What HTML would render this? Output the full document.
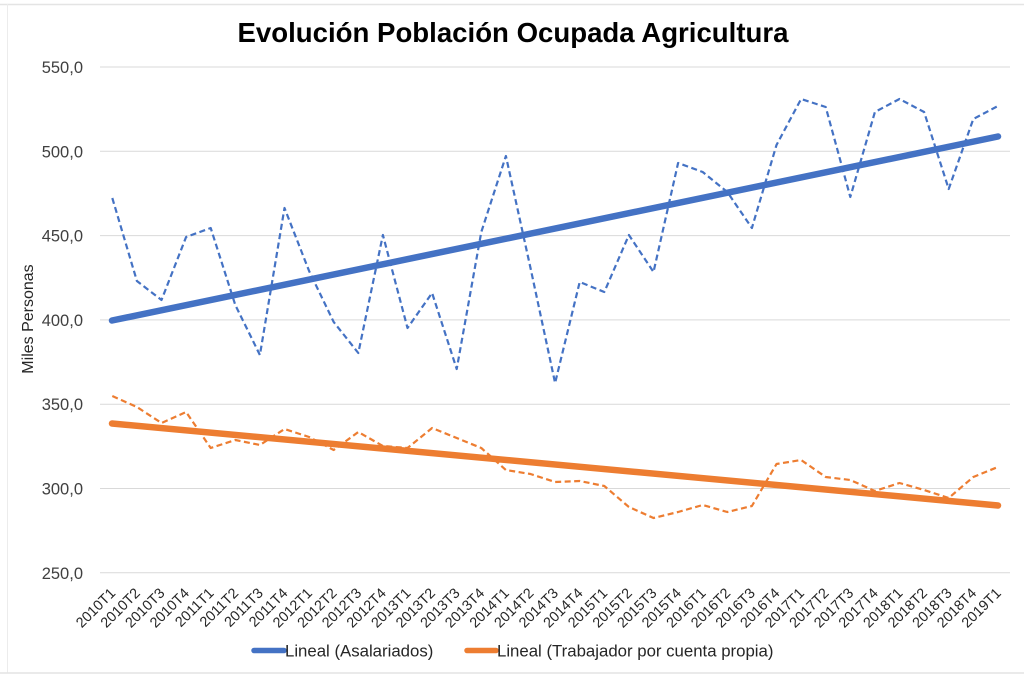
<!DOCTYPE html>
<html><head><meta charset="utf-8"><style>
html,body{margin:0;padding:0;background:#fff;}
svg{display:block;}
text{font-family:"Liberation Sans",Arial,sans-serif;}
</style></head><body>
<svg width="1024" height="676" viewBox="0 0 1024 676" xmlns="http://www.w3.org/2000/svg">
<rect x="0" y="0" width="1024" height="676" fill="#fff"/>
<line x1="0" y1="4.5" x2="1024" y2="4.5" stroke="#e4e4e4" stroke-width="1.5"/>
<line x1="7.5" y1="4" x2="7.5" y2="673" stroke="#ececec" stroke-width="1"/>
<line x1="0" y1="673" x2="1024" y2="673" stroke="#e4e4e4" stroke-width="1.5"/>
<text x="513" y="42" text-anchor="middle" font-size="27.6" font-weight="bold" fill="#000">Evolución Población Ocupada Agricultura</text>
<g stroke="#d9d9d9" stroke-width="1">
<line x1="100" y1="67" x2="1010" y2="67"/>
<line x1="100" y1="151.3" x2="1010" y2="151.3"/>
<line x1="100" y1="235.6" x2="1010" y2="235.6"/>
<line x1="100" y1="319.9" x2="1010" y2="319.9"/>
<line x1="100" y1="404.2" x2="1010" y2="404.2"/>
<line x1="100" y1="488.5" x2="1010" y2="488.5"/>
<line x1="100" y1="572.8" x2="1010" y2="572.8"/>
</g>
<g font-size="16.5" fill="#404040" text-anchor="end">
<text x="83" y="73">550,0</text>
<text x="83" y="157.3">500,0</text>
<text x="83" y="241.6">450,0</text>
<text x="83" y="325.9">400,0</text>
<text x="83" y="410.2">350,0</text>
<text x="83" y="494.5">300,0</text>
<text x="83" y="578.8">250,0</text>
</g>
<text transform="translate(33,319) rotate(-90)" text-anchor="middle" font-size="16" fill="#262626">Miles Personas</text>
<polyline fill="none" stroke="#4472C4" stroke-width="2.2" stroke-dasharray="6,3.5" stroke-linejoin="round" points="112.3,198 136.9,281 161.5,300 186.1,237 210.7,228 235.3,305 259.9,355 284.5,208 309.1,271 333.7,322 358.3,353 382.9,235 407.5,328 432.1,293 456.7,369 481.3,232 505.9,156 530.5,268 555.1,383 579.7,282 604.3,292 628.9,235 653.5,272 678.1,163 702.7,172 727.3,192 751.9,228 776.5,145 801.1,99 825.7,107 850.3,197 874.9,112 899.5,99 924.1,112 948.7,189 973.3,119 997.9,106"/>
<polyline fill="none" stroke="#ED7D31" stroke-width="2.2" stroke-dasharray="6,3.5" stroke-linejoin="round" points="112.3,396 136.9,407 161.5,423 186.1,412 210.7,448 235.3,440 259.9,445 284.5,429 309.1,437 333.7,450 358.3,432 382.9,446 407.5,448 432.1,428 456.7,438 481.3,448 505.9,470 530.5,474 555.1,482 579.7,481 604.3,486 628.9,507 653.5,518 678.1,512 702.7,505 727.3,512 751.9,506 776.5,464 801.1,460 825.7,477 850.3,480 874.9,491 899.5,483 924.1,490 948.7,498 973.3,477 997.9,467"/>
<line x1="112" y1="320.5" x2="998" y2="136.5" stroke="#4472C4" stroke-width="6.5" stroke-linecap="round"/>
<line x1="112" y1="423.5" x2="998" y2="505.5" stroke="#ED7D31" stroke-width="6.5" stroke-linecap="round"/>
<g font-size="14.4" fill="#262626" text-anchor="end">
<text transform="translate(116.3,594) rotate(-45)">2010T1</text>
<text transform="translate(140.9,594) rotate(-45)">2010T2</text>
<text transform="translate(165.5,594) rotate(-45)">2010T3</text>
<text transform="translate(190.1,594) rotate(-45)">2010T4</text>
<text transform="translate(214.7,594) rotate(-45)">2011T1</text>
<text transform="translate(239.3,594) rotate(-45)">2011T2</text>
<text transform="translate(263.9,594) rotate(-45)">2011T3</text>
<text transform="translate(288.5,594) rotate(-45)">2011T4</text>
<text transform="translate(313.1,594) rotate(-45)">2012T1</text>
<text transform="translate(337.7,594) rotate(-45)">2012T2</text>
<text transform="translate(362.3,594) rotate(-45)">2012T3</text>
<text transform="translate(386.9,594) rotate(-45)">2012T4</text>
<text transform="translate(411.5,594) rotate(-45)">2013T1</text>
<text transform="translate(436.1,594) rotate(-45)">2013T2</text>
<text transform="translate(460.7,594) rotate(-45)">2013T3</text>
<text transform="translate(485.3,594) rotate(-45)">2013T4</text>
<text transform="translate(509.9,594) rotate(-45)">2014T1</text>
<text transform="translate(534.5,594) rotate(-45)">2014T2</text>
<text transform="translate(559.1,594) rotate(-45)">2014T3</text>
<text transform="translate(583.7,594) rotate(-45)">2014T4</text>
<text transform="translate(608.3,594) rotate(-45)">2015T1</text>
<text transform="translate(632.9,594) rotate(-45)">2015T2</text>
<text transform="translate(657.5,594) rotate(-45)">2015T3</text>
<text transform="translate(682.1,594) rotate(-45)">2015T4</text>
<text transform="translate(706.7,594) rotate(-45)">2016T1</text>
<text transform="translate(731.3,594) rotate(-45)">2016T2</text>
<text transform="translate(755.9,594) rotate(-45)">2016T3</text>
<text transform="translate(780.5,594) rotate(-45)">2016T4</text>
<text transform="translate(805.1,594) rotate(-45)">2017T1</text>
<text transform="translate(829.7,594) rotate(-45)">2017T2</text>
<text transform="translate(854.3,594) rotate(-45)">2017T3</text>
<text transform="translate(878.9,594) rotate(-45)">2017T4</text>
<text transform="translate(903.5,594) rotate(-45)">2018T1</text>
<text transform="translate(928.1,594) rotate(-45)">2018T2</text>
<text transform="translate(952.7,594) rotate(-45)">2018T3</text>
<text transform="translate(977.3,594) rotate(-45)">2018T4</text>
<text transform="translate(1001.9,594) rotate(-45)">2019T1</text>
</g>
<line x1="254" y1="650.5" x2="284" y2="650.5" stroke="#4472C4" stroke-width="5.5" stroke-linecap="round"/>
<text x="285" y="656.5" font-size="16.8" fill="#262626">Lineal (Asalariados)</text>
<line x1="467" y1="650.5" x2="496" y2="650.5" stroke="#ED7D31" stroke-width="5.5" stroke-linecap="round"/>
<text x="497" y="656.5" font-size="16.8" fill="#262626">Lineal (Trabajador por cuenta propia)</text>
</svg>
</body></html>
